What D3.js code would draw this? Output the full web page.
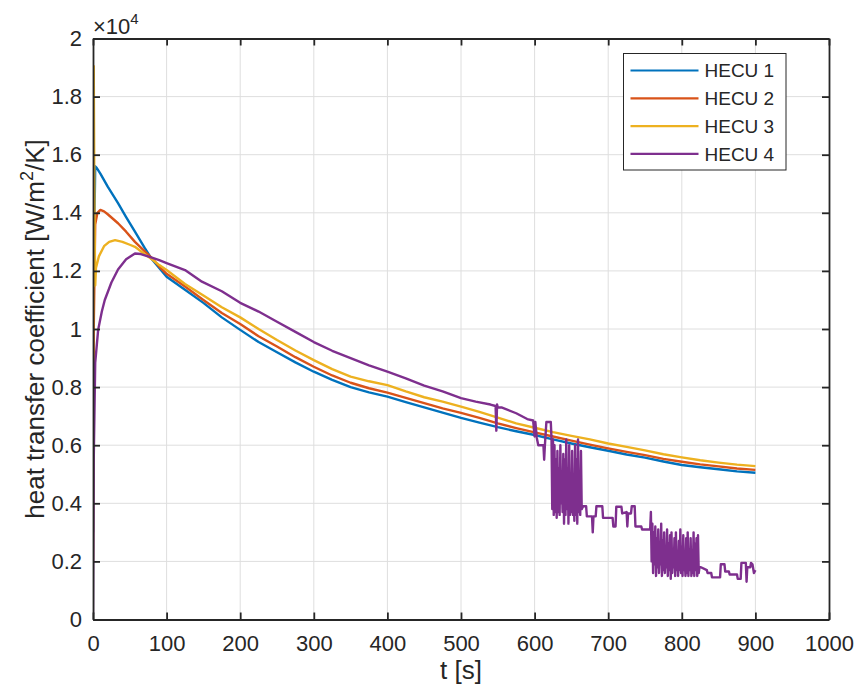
<!DOCTYPE html>
<html>
<head>
<meta charset="utf-8">
<script src="https://cdn.jsdelivr.net/npm/d3@7"></script>
<style>
  body { margin: 0; background: #fff; }
  text { font-family: "Liberation Sans", Arial, sans-serif; fill: #262626; }
</style>
</head>
<body>
<div id="chart"></div>
<script>

// values are in units of 10^4 W/m^2/K, time in s
var xTicks = [0, 100, 200, 300, 400, 500, 600, 700, 800, 900, 1000];
var yTicks = [0, 0.2, 0.4, 0.6, 0.8, 1, 1.2, 1.4, 1.6, 1.8, 2];
var seriesNames = ["HECU 1", "HECU 2", "HECU 3", "HECU 4"];
var seriesColors = ["#0072BD", "#D95319", "#EDB120", "#7E2F8E"];

var hecu1 = [[0,0.3],[1,1.2],[3,1.56],[5,1.555],[10,1.535],[20,1.49],[34,1.433],[45,1.385],[57,1.335],[70,1.28],[80,1.24],
  [90,1.21],[100,1.18],[125,1.135],[150,1.09],[175,1.04],[200,0.997],[225,0.955],[250,0.92],[275,0.885],[300,0.853],
  [325,0.825],[350,0.80],[375,0.782],[400,0.767],[425,0.748],[450,0.73],[475,0.712],[500,0.694],[525,0.678],[550,0.662],
  [575,0.648],[600,0.635],[625,0.62],[650,0.606],[675,0.593],[700,0.581],[725,0.568],[750,0.557],[775,0.544],[800,0.532],
  [825,0.524],[850,0.517],[875,0.51],[900,0.505]];

var hecu2 = [[0,0.2],[1,1.0],[3,1.36],[6,1.40],[10,1.41],[15,1.405],[20,1.395],[34,1.364],[45,1.335],[57,1.3],[70,1.268],
  [80,1.244],[90,1.215],[100,1.19],[125,1.146],[150,1.10],[175,1.055],[200,1.017],[225,0.975],[250,0.94],[275,0.903],
  [300,0.870],[325,0.84],[350,0.815],[375,0.796],[400,0.781],[425,0.763],[450,0.745],[475,0.727],[500,0.711],[525,0.694],
  [550,0.675],[575,0.659],[600,0.644],[625,0.63],[650,0.616],[675,0.602],[700,0.589],[725,0.577],[750,0.566],[775,0.553],
  [800,0.543],[825,0.534],[850,0.527],[875,0.52],[900,0.515]];

var hecu3 = [[0,0.5],[0.5,1.5],[1,1.905],[2,1.4],[3,1.15],[4,1.21],[8,1.25],[15,1.285],[22,1.30],[30,1.306],[40,1.30],
  [50,1.29],[57,1.283],[70,1.258],[80,1.24],[90,1.22],[100,1.203],[125,1.155],[150,1.115],[175,1.075],[200,1.04],
  [225,1.0],[250,0.962],[275,0.926],[300,0.893],[325,0.862],[350,0.836],[375,0.82],[400,0.807],[425,0.785],[450,0.765],
  [475,0.75],[500,0.733],[525,0.715],[550,0.695],[575,0.675],[600,0.66],[625,0.645],[650,0.632],[675,0.62],[700,0.606],
  [725,0.594],[750,0.582],[775,0.569],[800,0.558],[825,0.548],[850,0.54],[875,0.533],[900,0.528]];

var hecu4 = [[0,0.02],[0.5,0.3],[1,0.55],[3,0.883],[7,0.997],[12,1.06],[16,1.1],[25,1.16],[34,1.205],[45,1.24],[57,1.26],
  [65,1.258],[80,1.246],[90,1.237],[100,1.227],[125,1.203],[148,1.163],[175,1.13],[200,1.09],[225,1.06],[250,1.025],
  [275,0.99],[300,0.955],[325,0.925],[350,0.9],[375,0.875],[400,0.853],[425,0.83],[450,0.805],[475,0.785],[500,0.762],
  [520,0.75],[540,0.74],[547,0.735],[548,0.65],[549,0.74],[550,0.73],[555,0.73],[575,0.71],[590,0.69],[598,0.685],
  [600,0.63],[601,0.68],[603,0.625],[605,0.6],[612,0.6],[613,0.55],[614,0.6],[616,0.68],[622,0.68],[623,0.62],
  [624,0.38],[625,0.62],[626,0.36],[627,0.6],[628,0.37],[629,0.55],[630,0.35],[631,0.58],[632,0.37],[633,0.52],
  [634,0.36],[635,0.6],[636,0.4],[637,0.5],[638,0.37],[639,0.57],[640,0.33],[641,0.55],[642,0.36],[643,0.62],
  [644,0.38],[645,0.52],[646,0.33],[647,0.6],[648,0.36],[649,0.5],[650,0.37],[651,0.58],[652,0.36],[653,0.45],
  [654,0.34],[655,0.6],[656,0.36],[657,0.55],[658,0.33],[659,0.62],[660,0.37],[661,0.5],[662,0.36],[663,0.58],
  [664,0.38],[666,0.39],[670,0.39],[671,0.355],[678,0.355],[679,0.3],[680,0.355],[683,0.355],[684,0.39],[692,0.39],
  [693,0.35],[706,0.35],[707,0.32],[710,0.32],[711,0.388],[718,0.388],[719,0.365],[725,0.37],[726,0.32],[727,0.365],
  [731,0.365],[732,0.39],[736,0.39],[737,0.32],[745,0.32],[746,0.31],[757,0.31],
  [758,0.37],[759,0.2],[760,0.33],[761,0.16],[762,0.3],[763,0.19],[764,0.32],[765,0.15],[766,0.28],[767,0.18],
  [768,0.31],[769,0.16],[770,0.25],[771,0.19],[772,0.33],[773,0.15],[774,0.27],[775,0.17],[776,0.3],[777,0.16],
  [778,0.24],[779,0.18],[780,0.31],[781,0.15],[782,0.26],[783,0.17],[784,0.29],[785,0.14],[786,0.3],[787,0.16],
  [788,0.23],[789,0.18],[790,0.28],[791,0.15],[792,0.3],[793,0.17],[794,0.22],[795,0.15],[796,0.27],[797,0.17],
  [798,0.31],[799,0.16],[800,0.25],[801,0.15],[802,0.29],[803,0.17],[804,0.2],[805,0.15],[806,0.28],[807,0.16],
  [808,0.3],[809,0.15],[810,0.24],[811,0.17],[812,0.28],[813,0.15],[814,0.22],[815,0.16],[816,0.3],[817,0.15],
  [818,0.26],[819,0.17],[820,0.28],[821,0.15],[822,0.29],[823,0.16],[824,0.18],
  [826,0.18],[834,0.17],[835,0.16],[840,0.16],[841,0.145],[852,0.145],[853,0.19],[858,0.19],[859,0.165],[864,0.165],
  [865,0.155],[875,0.155],[876,0.14],[880,0.14],[881,0.195],[887,0.195],[888,0.13],[889,0.18],[893,0.18],[894,0.195],
  [896,0.19],[898,0.16],[900,0.17]];

var allSeries = [hecu1, hecu2, hecu3, hecu4];

var W = 856, H = 689;
var margin = {top: 38.5, right: 27, bottom: 69.5, left: 93};
var width = W - margin.left - margin.right,
    height = H - margin.top - margin.bottom;

var svg = d3.select("#chart").append("svg")
    .attr("width", W)
    .attr("height", H);

var g = svg.append("g")
    .attr("transform", "translate(" + margin.left + "," + margin.top + ")");

var x = d3.scaleLinear().domain([0, 1000]).range([0, width]);
var y = d3.scaleLinear().domain([0, 2]).range([height, 0]);

// grid
g.append("g").selectAll("line").data(xTicks.slice(1, -1)).enter().append("line")
    .attr("x1", function(d) { return x(d); }).attr("x2", function(d) { return x(d); })
    .attr("y1", 0).attr("y2", height)
    .attr("stroke", "#dedede").attr("stroke-width", 1);
g.append("g").selectAll("line").data(yTicks.slice(1, -1)).enter().append("line")
    .attr("y1", function(d) { return y(d); }).attr("y2", function(d) { return y(d); })
    .attr("x1", 0).attr("x2", width)
    .attr("stroke", "#dedede").attr("stroke-width", 1);

// lines
var line = d3.line()
    .x(function(d) { return x(d[0]); })
    .y(function(d) { return y(d[1]); });

svg.append("clipPath").attr("id", "clip")
    .append("rect").attr("width", width).attr("height", height);

g.append("g").attr("clip-path", "url(#clip)")
  .selectAll("path").data(allSeries).enter().append("path")
    .attr("d", line)
    .attr("fill", "none")
    .attr("stroke", function(d, i) { return seriesColors[i]; })
    .attr("stroke-width", 2.4)
    .attr("stroke-linejoin", "round");

// axes (MATLAB-like box with inner ticks)
var tickLen = 7;
var fmt = function(d) { return String(+d.toFixed(1)); };

var xb = g.append("g")
    .attr("transform", "translate(0," + height + ")")
    .call(d3.axisBottom(x).tickValues(xTicks).tickSizeInner(-tickLen).tickSizeOuter(0).tickPadding(16).tickFormat(fmt));
var xt = g.append("g")
    .call(d3.axisTop(x).tickValues(xTicks).tickSizeInner(-tickLen).tickSizeOuter(0).tickFormat(""));
var yl = g.append("g")
    .call(d3.axisLeft(y).tickValues(yTicks).tickSizeInner(-tickLen).tickSizeOuter(0).tickPadding(11).tickFormat(fmt));
var yr = g.append("g")
    .attr("transform", "translate(" + width + ",0)")
    .call(d3.axisRight(y).tickValues(yTicks).tickSizeInner(-tickLen).tickSizeOuter(0).tickFormat(""));

[xb, xt, yl, yr].forEach(function(a) {
    a.selectAll(".domain").attr("stroke", "#262626").attr("stroke-width", 1.8);
    a.selectAll(".tick line").attr("stroke", "#262626").attr("stroke-width", 1.8);
    a.selectAll("text").attr("fill", "#262626").style("font-size", "22px")
        .style("font-family", "'Liberation Sans', Arial, sans-serif");
});

// exponent label
var ex = svg.append("text")
    .attr("x", margin.left)
    .attr("y", 34)
    .style("font-size", "22px");
ex.append("tspan").text("\u00d710");
ex.append("tspan").attr("dy", -10).style("font-size", "15px").text("4");

// axis labels
svg.append("text")
    .attr("x", margin.left + width / 2)
    .attr("y", 679)
    .attr("text-anchor", "middle")
    .style("font-size", "26px")
    .text("t [s]");

var yt = svg.append("text")
    .attr("transform", "translate(44," + (margin.top + height / 2) + ") rotate(-90)")
    .attr("text-anchor", "middle")
    .style("font-size", "26px");
yt.append("tspan").text("heat transfer coefficient [W/m");
yt.append("tspan").attr("dy", -11).style("font-size", "18px").text("2");
yt.append("tspan").attr("dy", 11).text("/K]");

// legend
var lg = svg.append("g").attr("transform", "translate(623.5,53.5)");
lg.append("rect").attr("width", 162.5).attr("height", 116.5)
    .attr("fill", "#fff").attr("stroke", "#262626").attr("stroke-width", 1);
seriesNames.forEach(function(name, i) {
    var yy = 17 + i * 27.8;
    lg.append("line").attr("x1", 7).attr("x2", 75).attr("y1", yy).attr("y2", yy)
        .attr("stroke", seriesColors[i]).attr("stroke-width", 2.2);
    lg.append("text").attr("x", 81).attr("y", yy).attr("dy", "0.35em")
        .style("font-size", "19px").text(name);
});

</script>
</body>
</html>
